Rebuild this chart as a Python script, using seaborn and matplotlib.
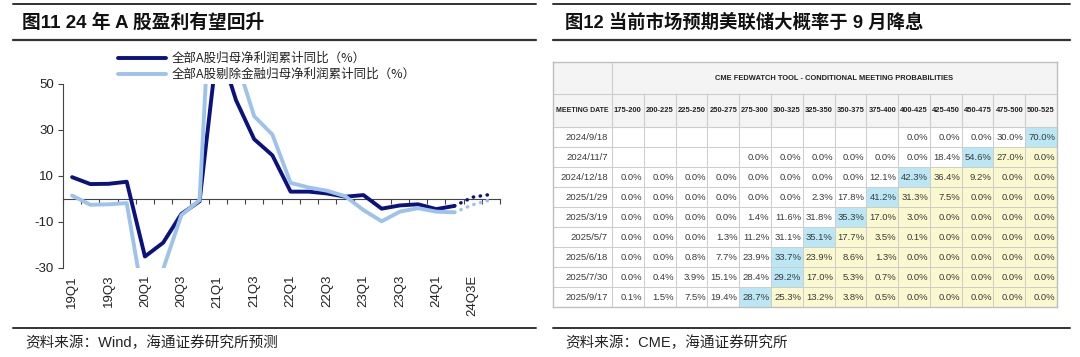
import matplotlib
matplotlib.use('Agg')
import matplotlib.pyplot as plt
import seaborn as sns
import numpy as np
from matplotlib.lines import Line2D
from matplotlib.colors import ListedColormap

sns.set_theme(style='white')
plt.rcParams['font.family'] = ['Liberation Sans', 'Noto Sans CJK SC', 'DejaVu Sans']
plt.rcParams['axes.unicode_minus'] = False

# ---------------- data: left chart ----------------
quarters = ['19Q1', '19Q2', '19Q3', '19Q4', '20Q1', '20Q2', '20Q3', '20Q4',
            '21Q1', '21Q2', '21Q3', '21Q4', '22Q1', '22Q2', '22Q3', '22Q4',
            '23Q1', '23Q2', '23Q3', '23Q4', '24Q1', '24Q2', '24Q3E', '24Q4E']
n_reported = 22  # through 24Q2; the rest is forecast
all_a = [9.5, 6.5, 6.6, 7.5, -25.0, -19.0, -6.5, -1.0,
         68.0, 43.0, 26.0, 19.0, 3.2, 3.2, 2.4, 1.0,
         1.7, -4.2, -2.8, -2.3, -4.4, -3.0, 0.8, 2.0]
ex_fin = [1.5, -2.5, -2.3, -1.8, -48.0, -30.5, -7.0, -0.5,
          150.0, 61.0, 36.0, 28.0, 7.0, 5.0, 3.6, 1.2,
          -4.8, -9.7, -5.5, -4.0, -5.5, -5.8, -2.5, -0.3]
series_names = ['全部A股归母净利润累计同比（%）', '全部A股剔除金融归母净利润累计同比（%）']
y_ticks = [-30, -10, 10, 30, 50]

# ---------------- data: right table ----------------
rate_bins = ['175-200', '200-225', '225-250', '250-275', '275-300', '300-325', '325-350',
             '350-375', '375-400', '400-425', '425-450', '450-475', '475-500', '500-525']
meeting_dates = ['2024/9/18', '2024/11/7', '2024/12/18', '2025/1/29', '2025/3/19',
                 '2025/5/7', '2025/6/18', '2025/7/30', '2025/9/17']
nan = np.nan
p_20240918 = [nan, nan, nan, nan, nan, nan, nan, nan, nan, 0.0, 0.0, 0.0, 30.0, 70.0]
p_20241107 = [nan, nan, nan, nan, 0.0, 0.0, 0.0, 0.0, 0.0, 0.0, 18.4, 54.6, 27.0, 0.0]
p_20241218 = [0.0, 0.0, 0.0, 0.0, 0.0, 0.0, 0.0, 0.0, 12.1, 42.3, 36.4, 9.2, 0.0, 0.0]
p_20250129 = [0.0, 0.0, 0.0, 0.0, 0.0, 0.0, 2.3, 17.8, 41.2, 31.3, 7.5, 0.0, 0.0, 0.0]
p_20250319 = [0.0, 0.0, 0.0, 0.0, 1.4, 11.6, 31.8, 35.3, 17.0, 3.0, 0.0, 0.0, 0.0, 0.0]
p_20250507 = [0.0, 0.0, 0.0, 1.3, 11.2, 31.1, 35.1, 17.7, 3.5, 0.1, 0.0, 0.0, 0.0, 0.0]
p_20250618 = [0.0, 0.0, 0.8, 7.7, 23.9, 33.7, 23.9, 8.6, 1.3, 0.0, 0.0, 0.0, 0.0, 0.0]
p_20250730 = [0.0, 0.4, 3.9, 15.1, 28.4, 29.2, 17.0, 5.3, 0.7, 0.0, 0.0, 0.0, 0.0, 0.0]
p_20250917 = [0.1, 1.5, 7.5, 19.4, 28.7, 25.3, 13.2, 3.8, 0.5, 0.0, 0.0, 0.0, 0.0, 0.0]

W, H = 1080, 357
fig = plt.figure(figsize=(W / 100, H / 100), dpi=100)
fig.patch.set_facecolor('white')

def fx(px):
    return px / W

def fy(py):
    return 1 - py / H

# ---------- decorations (rules, titles, sources) ----------
rule_color = '#333333'
for x0, x1 in [(13, 536), (553, 1070)]:
    for yy, lw in [(4, 1.4), (40, 1.6), (328, 1.4)]:
        fig.add_artist(Line2D([fx(x0), fx(x1)], [fy(yy), fy(yy)], color=rule_color, lw=lw))

fig.text(fx(22), fy(23), '图11 24 年 A 股盈利有望回升', fontsize=13.5, fontweight='bold',
         ha='left', va='center', color='#111111')
fig.text(fx(565), fy(23), '图12 当前市场预期美联储大概率于 9 月降息', fontsize=13.2, fontweight='bold',
         ha='left', va='center', color='#111111')
fig.text(fx(25), fy(343), '资料来源：Wind，海通证券研究所预测', fontsize=10.5,
         ha='left', va='center', color='#222222')
fig.text(fx(565), fy(343), '资料来源：CME，海通证券研究所', fontsize=10.5,
         ha='left', va='center', color='#222222')

# ---------- left line chart ----------
ax1 = fig.add_axes([fx(63), fy(268), fx(500) - fx(63), fy(84) - fy(268)])
idx = np.arange(len(quarters))
dark = '#0B1280'
light = '#9DC3EA'
lw = 2.8
sns.lineplot(x=idx[:n_reported], y=all_a[:n_reported], ax=ax1, color=dark, lw=lw,
             legend=False, zorder=3, solid_capstyle='round')
sns.lineplot(x=idx[n_reported - 1:], y=all_a[n_reported - 1:], ax=ax1, color=dark, lw=2.5,
             linestyle=(0, (0.1, 1.9)), dash_capstyle='round', legend=False, zorder=3)
sns.lineplot(x=idx[:n_reported], y=ex_fin[:n_reported], ax=ax1, color=light, lw=lw,
             legend=False, zorder=4, solid_capstyle='round')
sns.lineplot(x=idx[n_reported - 1:], y=ex_fin[n_reported - 1:], ax=ax1, color=light, lw=2.5,
             linestyle=(0, (0.1, 1.9)), dash_capstyle='round', legend=False, zorder=4)

ax1.set_xlim(-0.5, len(quarters) - 0.5)
ax1.set_ylim(-30, 50)
ax1.set_yticks(y_ticks)
ax1.set_yticklabels([str(v) for v in y_ticks])
ax1.tick_params(axis='y', left=True, direction='out', length=3.5, width=0.8,
                color='#444444', labelsize=9.5, labelcolor='#222222', pad=3)
ax1.set_xticks(np.arange(-0.5, len(quarters), 1.0))
ax1.tick_params(axis='x', bottom=True, direction='out', length=3.5, width=0.8,
                color='#444444', labelbottom=False)
ax1.spines['bottom'].set_position(('data', 0))
ax1.spines['bottom'].set_color('#444444')
ax1.spines['bottom'].set_linewidth(0.8)
ax1.spines['left'].set_color('#444444')
ax1.spines['left'].set_linewidth(0.8)
ax1.spines['top'].set_visible(False)
ax1.spines['right'].set_visible(False)
ax1.set_xlabel('')
ax1.set_ylabel('')
ax1.set_facecolor('none')

secax = ax1.secondary_xaxis('bottom')
secax.set_xticks(idx[::2])
secax.set_xticklabels(quarters[::2], rotation=90)
secax.tick_params(length=0, pad=5, labelsize=9.5, labelcolor='#222222')
secax.spines['bottom'].set_visible(False)

handles = [Line2D([], [], color=dark, lw=lw), Line2D([], [], color=light, lw=lw)]
fig.legend(handles, series_names, loc='upper left', bbox_to_anchor=(fx(118), fy(52)),
           frameon=False, prop={'family': ['Noto Sans CJK SC', 'DejaVu Sans'], 'size': 9},
           handlelength=3.8, handletextpad=0.5, labelspacing=0.25, borderpad=0,
           borderaxespad=0, labelcolor='#222222')

# ---------- right table (heatmap) ----------
rows = [p_20240918, p_20241107, p_20241218, p_20250129, p_20250319,
        p_20250507, p_20250618, p_20250730, p_20250917]
probs = np.array(rows, dtype=float)
codes = np.zeros_like(probs)
annot = np.empty(probs.shape, dtype=object)
for i in range(probs.shape[0]):
    m = int(np.nanargmax(probs[i]))
    codes[i, m] = 2
    codes[i, m + 1:] = 1
    for j in range(probs.shape[1]):
        annot[i, j] = '' if np.isnan(probs[i, j]) else f'{probs[i, j]:.1f}%'

x_left, x_date, x_right = 553, 612, 1057
y_top, y_hdr, y_data, y_bot = 62, 94, 127, 307
unit_x = (x_right - x_date) / len(rate_bins)
w0 = (x_date - x_left) / unit_x
unit_y = (y_bot - y_data) / len(meeting_dates)
h_title = (y_hdr - y_top) / unit_y
h_hdr = (y_data - y_hdr) / unit_y

ax2 = fig.add_axes([fx(x_left), fy(y_bot), fx(x_right) - fx(x_left), fy(y_top) - fy(y_bot)])
narrow = ['Liberation Sans Narrow', 'Liberation Sans', 'DejaVu Sans']
gc = '#CDCDCD'
sns.heatmap(codes, ax=ax2, cmap=ListedColormap(['#FFFFFF', '#FAF8CF', '#BBE7F4']),
            vmin=-0.5, vmax=2.5, cbar=False, linewidths=0.7, linecolor=gc,
            annot=annot, fmt='', xticklabels=False, yticklabels=False,
            annot_kws=dict(fontsize=6.8, color='#3A3A3A', family=narrow))
for t in ax2.texts:
    x, y = t.get_position()
    t.set_position((x + 0.45, y))
    t.set_ha('right')

ax2.set_xlim(-w0, len(rate_bins))
ax2.set_ylim(len(meeting_dates), -(h_title + h_hdr))
ax2.axhspan(-(h_title + h_hdr), 0, color='#F4F4F4', zorder=0)
ax2.hlines([-h_hdr, 0], -w0, len(rate_bins), color=gc, lw=0.8, zorder=2)
ax2.hlines(np.arange(1, len(meeting_dates)), -w0, 0, color=gc, lw=0.8, zorder=2)
ax2.vlines([0], -(h_title + h_hdr), len(meeting_dates), color=gc, lw=0.8, zorder=2)
ax2.vlines(np.arange(1, len(rate_bins)), -h_hdr, 0, color=gc, lw=0.8, zorder=2)

for i, d in enumerate(meeting_dates):
    ax2.text(-0.13, i + 0.5, d, ha='right', va='center', fontsize=6.8, color='#3A3A3A', family=narrow)
for j, b in enumerate(rate_bins):
    ax2.text(j + 0.5, -h_hdr / 2, b, ha='center', va='center', fontsize=5.4, fontweight='bold',
             color='#222222', family=narrow)
ax2.text(-w0 / 2, -h_hdr / 2, 'MEETING DATE', ha='center', va='center', fontsize=5.0,
         fontweight='bold', color='#222222', family=narrow)
ax2.text(len(rate_bins) / 2, -h_hdr - h_title / 2,
         'CME FEDWATCH TOOL - CONDITIONAL MEETING PROBABILITIES',
         ha='center', va='center', fontsize=5.4, fontweight='bold', color='#222222', family=narrow)
ax2.set_xticks([])
ax2.set_yticks([])
ax2.set_xlabel('')
ax2.set_ylabel('')
for s in ax2.spines.values():
    s.set_visible(True)
    s.set_color('#BEBEBE')
    s.set_linewidth(1.0)

fig.savefig('out.png', dpi=100, facecolor='white')
